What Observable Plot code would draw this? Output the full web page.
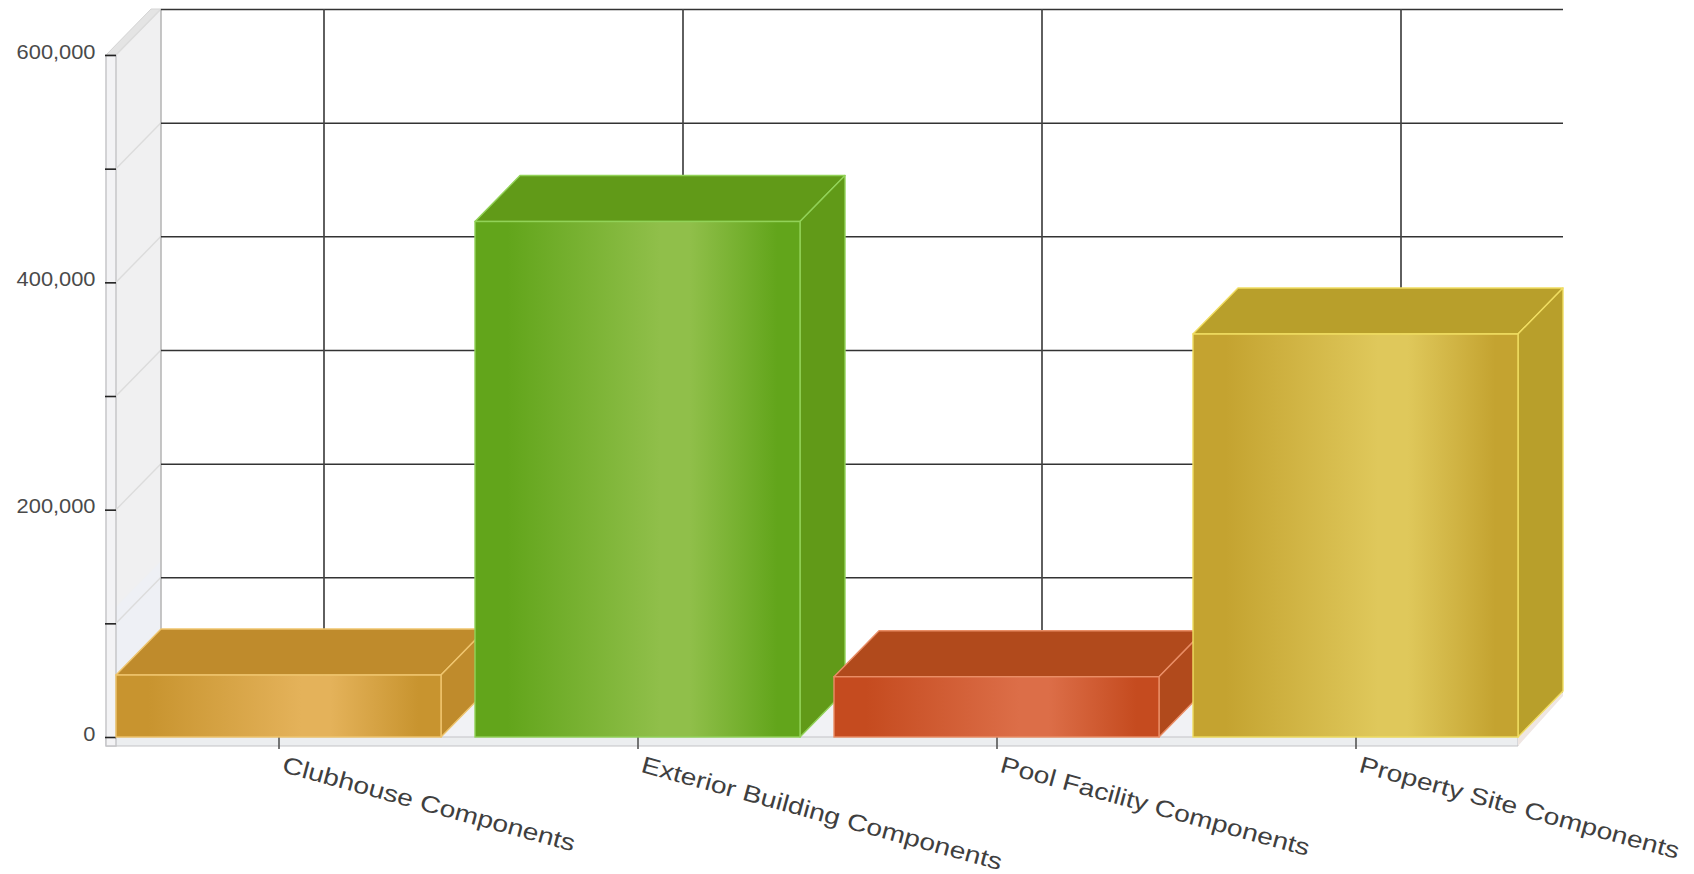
<!DOCTYPE html>
<html>
<head>
<meta charset="utf-8">
<script src="https://cdn.jsdelivr.net/npm/d3@7"></script>
<script src="https://cdn.jsdelivr.net/npm/@observablehq/plot@0.6"></script>
<style>
  html, body { margin: 0; padding: 0; background: #fff; }
  svg { display: block; }
</style>
</head>
<body>
<div id="chart"></div>
<script>
// Component cost totals, one box per category
const categories = ["Clubhouse Components", "Exterior Building Components", "Pool Facility Components", "Property Site Components"];
const values = [54500, 453500, 53000, 354500];

// Value axis
const gridTicks = [0, 100000, 200000, 300000, 400000, 500000, 600000];
const labelTicks = [0, 200000, 400000, 600000];

// Box colours: gradient ends, gradient centre, top/side faces, edge highlight
const edgeColors = ["#c8942f", "#62a51b", "#c54b1f", "#c4a330"];
const midColors = ["#e4b25a", "#90bf4a", "#dc6e48", "#dfc85b"];
const faceColors = ["#bf8b2c", "#619a18", "#b14a1c", "#b89f2b"];
const rimColors = ["#efc56e", "#92d258", "#ea8e66", "#f0dd62"];

// Oblique projection of the chart's depth axis, in pixels
const depthX = 45;
const depthY = 46;
const floorThickness = 9;
const wallThickness = 10;

const rows = categories.map((category, i) => ({category, value: values[i], index: i}));

const svgEl = name => document.createElementNS("http://www.w3.org/2000/svg", name);

function polygon(parent, points, attrs, before) {
  const el = svgEl("polygon");
  el.setAttribute("points", points.map(p => p.join(",")).join(" "));
  for (const k in attrs) el.setAttribute(k, attrs[k]);
  parent.insertBefore(el, before || null);
  return el;
}

// Gradient definitions for the front faces
function gradients() {
  const defs = svgEl("defs");
  rows.forEach((r, i) => {
    const g = svgEl("linearGradient");
    g.setAttribute("id", `front-${i}`);
    [[0, edgeColors[i]], [0.1, edgeColors[i]], [0.57, midColors[i]], [0.66, midColors[i]], [0.93, edgeColors[i]], [1, edgeColors[i]]]
      .forEach(([offset, color]) => {
        const s = svgEl("stop");
        s.setAttribute("offset", offset);
        s.setAttribute("stop-color", color);
        g.appendChild(s);
      });
    defs.appendChild(g);
  });
  return defs;
}

// Side wall and floor slab of the chart box, placed from the scales
function chartBox(index, {y}, channels, {width, height, marginLeft, marginRight}) {
  const g = svgEl("g");
  const x0 = marginLeft;
  const x1 = width - marginRight;
  const yTop = y(d3.max(gridTicks));
  const yBase = y(0);
  const line = "#c3c3c6";

  // side wall
  polygon(g, [[x0, yTop], [x0 + depthX, yTop - depthY], [x0 + depthX, yBase - depthY], [x0, yBase]],
    {fill: "#f0f0f1"});
  polygon(g, [[x0, yBase - 130], [x0 + depthX, yBase - 130 - depthY], [x0 + depthX, yBase - depthY], [x0, yBase]],
    {fill: "#eef0f5"});
  // wall top edge
  polygon(g, [[x0 - wallThickness, yTop], [x0 - wallThickness + depthX, yTop - depthY], [x0 + depthX, yTop - depthY], [x0, yTop]],
    {fill: "#e4e4e4", stroke: "#d4d4d4"});
  // floor
  polygon(g, [[x0, yBase], [x0 + depthX, yBase - depthY], [x1 + depthX, yBase - depthY], [x1, yBase]],
    {fill: "#f1f2f5"});
  // floor front and right edge
  polygon(g, [[x0 - wallThickness, yBase], [x1, yBase], [x1, yBase + floorThickness], [x0 - wallThickness, yBase + floorThickness]],
    {fill: "#eceef0", stroke: line, "stroke-width": 1});
  polygon(g, [[x1, yBase], [x1 + depthX, yBase - depthY], [x1 + depthX, yBase - depthY + 5], [x1, yBase + floorThickness]],
    {fill: "#efe6e2"});
  // wall front edge
  polygon(g, [[x0 - wallThickness, yTop], [x0, yTop], [x0, yBase + floorThickness], [x0 - wallThickness, yBase + floorThickness]],
    {fill: "#f3f3f5", stroke: line, "stroke-width": 1.4});
  // grid continuation across the side wall
  for (const t of gridTicks) {
    const l = svgEl("line");
    l.setAttribute("x1", x0); l.setAttribute("y1", y(t));
    l.setAttribute("x2", x0 + depthX); l.setAttribute("y2", y(t) - depthY);
    l.setAttribute("stroke", "#dcdcdc");
    l.setAttribute("stroke-width", 1.4);
    g.appendChild(l);
  }
  // back corner of the wall
  const c = svgEl("line");
  c.setAttribute("x1", x0 + depthX); c.setAttribute("y1", yTop - depthY);
  c.setAttribute("x2", x0 + depthX); c.setAttribute("y2", yBase - depthY);
  c.setAttribute("stroke", "#b8b8b8");
  c.setAttribute("stroke-width", 1.6);
  g.appendChild(c);
  return g;
}

// Adds the top and side faces behind each front rectangle drawn by the bar mark
function boxFaces(index, scales, channels, dimensions, context, next) {
  const g = next(index, scales, channels, dimensions, context);
  g.querySelectorAll("rect").forEach((rect, k) => {
    const i = index[k];
    const x = +rect.getAttribute("x");
    const y = +rect.getAttribute("y");
    const w = +rect.getAttribute("width");
    const h = +rect.getAttribute("height");
    const attrs = {fill: faceColors[i], stroke: rimColors[i], "stroke-width": 1.4, "stroke-linejoin": "round"};
    const parent = rect.parentNode;
    polygon(parent, [[x, y], [x + depthX, y - depthY], [x + w + depthX, y - depthY], [x + w, y]], attrs, rect);
    polygon(parent, [[x + w, y], [x + w + depthX, y - depthY], [x + w + depthX, y + h - depthY], [x + w, y + h]], attrs, rect);
  });
  return g;
}

// Widens text along its own baseline
const widen = factor => (index, scales, channels, dimensions, context, next) => {
  const g = next(index, scales, channels, dimensions, context);
  g.querySelectorAll("text").forEach(t => {
    t.setAttribute("transform", `${t.getAttribute("transform") || ""} scale(${factor},1)`);
  });
  return g;
};

const chart = Plot.plot({
  width: 1694,
  height: 874,
  marginLeft: 116,
  marginRight: 176,
  marginTop: 55,
  marginBottom: 137,
  style: {background: "#fff", fontFamily: "'Liberation Sans', Arial, sans-serif", overflow: "visible"},
  x: {type: "band", domain: categories, paddingInner: 0.095, paddingOuter: 0, axis: null},
  y: {domain: [0, 600000], axis: null},
  marks: [
    gradients,
    chartBox,
    // back wall grid, pushed along the depth axis
    Plot.ruleY(gridTicks, {dx: depthX, dy: -depthY, stroke: "#333", strokeWidth: 1.5}),
    Plot.ruleX(categories, {dx: depthX, dy: -depthY, stroke: "#444", strokeWidth: 1.7}),
    Plot.axisY({ticks: gridTicks, tickSize: 11, tickFormat: () => "", label: null, stroke: "#222", strokeWidth: 1.6}),
    Plot.axisY({ticks: labelTicks, tickSize: 0, tickPadding: 21, dy: -3, tickFormat: d3.format(","), label: null, fontSize: 19.5, fill: "#4a4a4a", render: widen(1.12)}),
    Plot.axisX({ticks: categories, tickSize: 12, tickFormat: () => "", label: null, stroke: "#555", strokeWidth: 1.6}),
    Plot.barY(rows, {
      x: "category",
      y: "value",
      fill: {value: d => `url(#front-${d.index})`, scale: null},
      stroke: {value: d => rimColors[d.index], scale: null},
      strokeWidth: 1.4,
      render: boxFaces
    }),
    Plot.text(rows, {
      x: "category",
      frameAnchor: "bottom",
      text: "category",
      rotate: 15.3,
      textAnchor: "start",
      lineAnchor: "middle",
      dx: 4,
      dy: 27,
      fontSize: 23.5,
      fill: "#3f3f3f",
      render: widen(1.2)
    })
  ]
});
document.getElementById("chart").appendChild(chart);
</script>
</body>
</html>
